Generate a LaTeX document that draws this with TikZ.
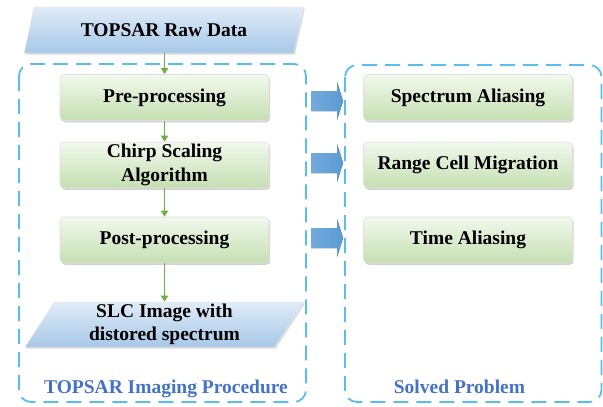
\documentclass[tikz,border=0pt]{standalone}
\usepackage{fontspec}
\setmainfont{Liberation Serif}
\usetikzlibrary{shapes.geometric,shadows,arrows.meta}
\definecolor{frameblue}{RGB}{88,190,236}
\definecolor{labelblue}{RGB}{68,114,196}
\definecolor{arrowblue}{RGB}{91,155,213}
\definecolor{greentop}{RGB}{242,248,237}
\definecolor{greenbot}{RGB}{196,223,177}
\definecolor{greenline}{RGB}{112,173,71}
\definecolor{partop}{RGB}{224,235,247}
\definecolor{parbot}{RGB}{167,200,232}
\begin{document}
\begin{tikzpicture}[x=1pt,y=-1pt,
  every node/.style={font=\fontsize{19.5}{23.5}\selectfont\bfseries},
  greenbox/.style={rectangle, rounded corners=4pt, minimum width=209pt, minimum height=46pt,
    top color=greentop, bottom color=greenbot, draw=black!12, line width=0.6pt,
    drop shadow={shadow xshift=1.2pt, shadow yshift=-1.8pt, fill=black!35, opacity=0.5},
    align=center, inner sep=2pt},
  parbox/.style={trapezium, trapezium left angle=64, trapezium right angle=116,
    trapezium stretches=true, minimum width=280pt, minimum height=46pt,
    top color=partop, bottom color=parbot, draw=black!10, line width=0.5pt,
    drop shadow={shadow xshift=1pt, shadow yshift=-1.5pt, fill=black!30, opacity=0.5},
    align=center, inner sep=0pt},
  frame/.style={draw=frameblue, line width=1.8pt, dash pattern=on 15pt off 8pt, rounded corners=12pt},
  flow/.style={draw=greenline, line width=1.5pt, -{Triangle[length=6pt,width=7pt]}},
  grouplabel/.style={text=labelblue, anchor=base},
  blockarrow/.pic={\fill[left color=arrowblue!85, right color=arrowblue]
     (-16,-10) -- (10,-10) -- (10,-19) -- (16,0) -- (10,19) -- (10,10) -- (-16,10) -- cycle;}
]
\useasboundingbox (0,0) rectangle (603,407);

% frames
\draw[frame] (19,64) rectangle (306,402);
\draw[frame] (345,65) rectangle (601.5,402);

% left column
\node[parbox] (raw) at (164,30) {TOPSAR Raw Data};
\node[greenbox] (pre) at (164.5,97.5) {Pre-processing};
\node[greenbox] (chirp) at (164.5,165) {Chirp Scaling\\Algorithm};
\node[greenbox] (post) at (164.5,240) {Post-processing};
\node[parbox, minimum width=279pt, minimum height=45pt] (slc) at (164.5,324.5) {SLC Image with\\distored spectrum};

% right column
\node[greenbox] (spec) at (468,97.5) {Spectrum Aliasing};
\node[greenbox] (range) at (468,165) {Range Cell Migration};
\node[greenbox] (time) at (468,240) {Time Aliasing};

% flow arrows
\draw[flow] (pre.north |- raw.south) -- (pre.north);
\draw[flow] (pre.south) -- (chirp.north);
\draw[flow] (chirp.south) -- (post.north);
\draw[flow] (post.south) -- (post.south |- slc.north);

% block arrows
\pic at (327,101) {blockarrow};
\pic at (327,163) {blockarrow};
\pic at (327,238) {blockarrow};

% labels
\node[grouplabel] (lbl1) at (166,393) {TOPSAR Imaging Procedure};
\node[grouplabel] (lbl2) at (459.5,393) {Solved Problem};
\end{tikzpicture}
\end{document}
